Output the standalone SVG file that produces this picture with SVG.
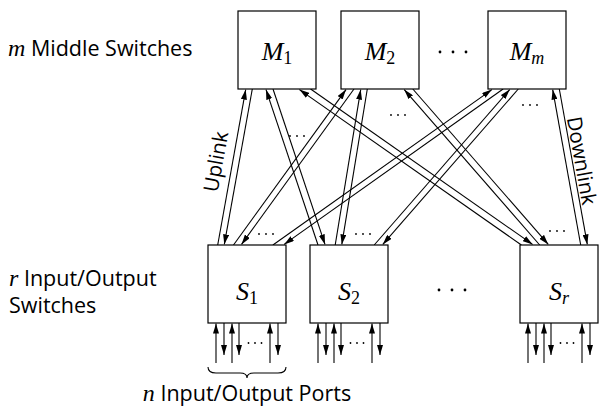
<svg xmlns="http://www.w3.org/2000/svg" xmlns:xlink="http://www.w3.org/1999/xlink" width="605" height="412" viewBox="0 0 605 412">
<style>
.box{fill:#fff;stroke:#000;stroke-width:1.2}
.ln{stroke:#000;stroke-width:1.1;fill:none;marker-end:url(#ah)}
.pl{stroke:#000;stroke-width:1.1;fill:none}
.lbl{font-family:"Open Sans","Liberation Sans",sans-serif;font-size:21.5px;fill:#000}
.rot{font-size:20.5px}
.math{font-family:"Liberation Serif","Times New Roman",serif;font-style:italic;font-size:24px}
.nm{font-family:"Liberation Serif","Times New Roman",serif;font-style:italic;font-size:26px;fill:#000}
.sub{font-size:18px;font-style:normal}
.subi{font-size:18px;font-style:italic}
.dot{fill:#000}
</style>
<defs>
<marker id="ah" markerWidth="10" markerHeight="6" refX="10" refY="3" orient="auto" markerUnits="userSpaceOnUse"><path d="M0,0 L10,3 L0,6 z" fill="#000"/></marker>
<g id="ports">
<line class="ln" x1="8" y1="363" x2="8" y2="323.6"/>
<line class="ln" x1="16" y1="323" x2="16" y2="355"/>
<line class="ln" x1="24" y1="363" x2="24" y2="323.6"/>
<line class="ln" x1="31" y1="323" x2="31" y2="355"/>
<line class="ln" x1="62" y1="363" x2="62" y2="323.6"/>
<line class="ln" x1="70" y1="323" x2="70" y2="355"/>
<circle class="dot" cx="40.5" cy="343" r="0.9"/><circle class="dot" cx="47" cy="343" r="0.9"/><circle class="dot" cx="53.5" cy="343" r="0.9"/>
</g>
<g id="dots3"><circle class="dot" cx="-7" cy="0" r="0.9"/><circle class="dot" cx="0" cy="0" r="0.9"/><circle class="dot" cx="7" cy="0" r="0.9"/></g>
<g id="cdots"><circle class="dot" cx="-13" cy="0" r="1.4"/><circle class="dot" cx="0" cy="0" r="1.4"/><circle class="dot" cx="13" cy="0" r="1.4"/></g>
</defs>
<rect width="605" height="412" fill="#fff"/>

<g id="connectors">
<line class="ln" x1="217.7" y1="245" x2="245.7" y2="89.6"/>
<line class="ln" x1="252.3" y1="89" x2="224.3" y2="244.4"/>
<line class="ln" x1="318" y1="245" x2="266" y2="89.6"/>
<line class="ln" x1="273" y1="89" x2="325" y2="244.4"/>
<line class="ln" x1="521.4" y1="245" x2="299.4" y2="89.6"/>
<line class="ln" x1="310.6" y1="89" x2="532.6" y2="244.4"/>
<line class="ln" x1="233.5" y1="245" x2="346" y2="89.6"/>
<line class="ln" x1="354" y1="89" x2="241.5" y2="244.4"/>
<line class="ln" x1="335.2" y1="245" x2="360.7" y2="89.6"/>
<line class="ln" x1="367.3" y1="89" x2="341.8" y2="244.4"/>
<line class="ln" x1="539.7" y1="245" x2="404.2" y2="89.6"/>
<line class="ln" x1="412.8" y1="89" x2="548.3" y2="244.4"/>
<line class="ln" x1="272.9" y1="245" x2="491.9" y2="89.6"/>
<line class="ln" x1="503.1" y1="89" x2="284.1" y2="244.4"/>
<line class="ln" x1="374.2" y1="245" x2="509.7" y2="89.6"/>
<line class="ln" x1="518.3" y1="89" x2="382.8" y2="244.4"/>
<line class="ln" x1="580.7" y1="245" x2="552.7" y2="89.6"/>
<line class="ln" x1="559.3" y1="89" x2="587.3" y2="244.4"/>
<use xlink:href="#dots3" transform="translate(297,136)"/>
<use xlink:href="#dots3" transform="translate(398,115)"/>
<use xlink:href="#dots3" transform="translate(530,105)"/>
<use xlink:href="#dots3" transform="translate(266,234)"/>
<use xlink:href="#dots3" transform="translate(363,234)"/>
<use xlink:href="#dots3" transform="translate(557,231)"/>
<text class="lbl rot" transform="translate(218,162) rotate(-79.8)" text-anchor="middle" y="5">Uplink</text>
<text class="lbl rot" transform="translate(579.5,161) rotate(79.8)" text-anchor="middle" y="5">Downlink</text>
</g>

<g id="M1"><rect class="box" x="238" y="11" width="78" height="78"/><text class="nm" x="277" y="60" text-anchor="middle">M<tspan class="sub" dy="4">1</tspan></text></g>
<g id="M2"><rect class="box" x="341" y="11" width="78" height="78"/><text class="nm" x="380" y="60" text-anchor="middle">M<tspan class="sub" dy="4">2</tspan></text></g>
<g id="Mm"><rect class="box" x="488" y="11" width="78" height="78"/><text class="nm" x="527" y="60" text-anchor="middle">M<tspan class="subi" dy="4">m</tspan></text></g>
<use xlink:href="#cdots" transform="translate(453,52)"/>

<g id="S1"><rect class="box" x="208" y="245" width="78" height="78"/><text class="nm" x="247" y="300" text-anchor="middle">S<tspan class="sub" dy="4">1</tspan></text><use xlink:href="#ports" transform="translate(208,0)"/></g>
<g id="S2"><rect class="box" x="310" y="245" width="78" height="78"/><text class="nm" x="349" y="300" text-anchor="middle">S<tspan class="sub" dy="4">2</tspan></text><use xlink:href="#ports" transform="translate(310,0)"/></g>
<g id="Sr"><rect class="box" x="520" y="245" width="78" height="78"/><text class="nm" x="559" y="300" text-anchor="middle">S<tspan class="subi" dy="4">r</tspan></text><use xlink:href="#ports" transform="translate(520,0)"/></g>
<use xlink:href="#cdots" transform="translate(452,290)"/>

<path class="pl" d="M208,367 Q208,373 216,373 L240,373 Q247,373 247,378 Q247,373 254,373 L278,373 Q286,373 286,367" stroke-width="1"/>

<text class="lbl" x="8" y="56"><tspan class="math">m</tspan> Middle Switches</text>
<text class="lbl" x="9" y="286"><tspan class="math">r</tspan> Input/Output</text>
<text class="lbl" x="9" y="313">Switches</text>
<text class="lbl" x="247" y="401" text-anchor="middle"><tspan class="math">n</tspan> Input/Output Ports</text>
</svg>
